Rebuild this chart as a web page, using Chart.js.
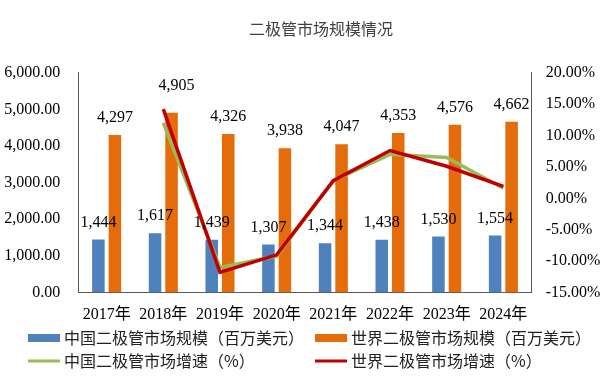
<!DOCTYPE html>
<html>
<head>
<meta charset="utf-8">
<script src="https://cdn.jsdelivr.net/npm/chart.js@4/dist/chart.umd.min.js"></script>
<style>
  html, body { margin: 0; padding: 0; background: #fff; }
  #wrap { position: relative; width: 610px; height: 381px; }
</style>
</head>
<body>
<div id="wrap"><canvas id="c" width="610" height="381"></canvas></div>
<script>
const title = '二极管市场规模情况';
const categories = ['2017年', '2018年', '2019年', '2020年', '2021年', '2022年', '2023年', '2024年'];
const chinaSize = [1444, 1617, 1439, 1307, 1344, 1438, 1530, 1554];
const worldSize = [4297, 4905, 4326, 3938, 4047, 4353, 4576, 4662];
const chinaGrowth = [null, 12.0, -11.0, -9.2, 2.8, 7.0, 6.5, 1.6];
const worldGrowth = [null, 14.2, -11.8, -9.0, 2.8, 7.6, 5.1, 1.9];
const labels = {
  chinaSize: '中国二极管市场规模（百万美元）',
  worldSize: '世界二极管市场规模（百万美元）',
  chinaGrowth: '中国二极管市场增速（%）',
  worldGrowth: '世界二极管市场增速（%）'
};

const SERIF = '"Liberation Serif", "Times New Roman", "Noto Sans CJK SC", serif';
const CJK = '"Noto Sans CJK SC", sans-serif';
const AXIS = '#595959';

const barLabelPlugin = {
  id: 'barLabels',
  afterDatasetsDraw(chart) {
    const ctx = chart.ctx;
    ctx.save();
    ctx.font = '16px ' + SERIF;
    ctx.fillStyle = '#000';
    ctx.textAlign = 'center';
    ctx.textBaseline = 'middle';
    chart.data.datasets.forEach((ds, di) => {
      if (ds.type !== 'bar') return;
      const meta = chart.getDatasetMeta(di);
      meta.data.forEach((el, i) => {
        let dx = 0, dy = 0;
        if (ds.key === 'world' && i === 1) { dx = 5; dy = -10; }
        ctx.fillText(ds.data[i].toLocaleString('en-US'), el.x + dx, el.y - 17 + dy);
      });
    });
    ctx.restore();
  }
};

const titleLegendPlugin = {
  id: 'titleLegend',
  afterDraw(chart) {
    const ctx = chart.ctx;
    ctx.save();
    ctx.font = '16px ' + CJK;
    ctx.fillStyle = '#404040';
    ctx.textAlign = 'center';
    ctx.textBaseline = 'middle';
    ctx.fillText(title, 321, 29);

    const ds = chart.data.datasets;
    const order = [2, 3, 1, 0];
    const cols = [28, 315];
    const rows = [338, 361];
    ctx.font = '16px ' + CJK;
    ctx.textAlign = 'left';
    ctx.fillStyle = '#222';
    order.forEach((di, k) => {
      const d = ds[di];
      const x = cols[k % 2];
      const y = rows[Math.floor(k / 2)];
      if (d.type === 'bar') {
        ctx.fillStyle = d.backgroundColor;
        ctx.fillRect(x, y - 4, 32, 8);
      } else {
        ctx.strokeStyle = d.borderColor;
        ctx.lineWidth = 3;
        ctx.beginPath();
        ctx.moveTo(x, y);
        ctx.lineTo(x + 32, y);
        ctx.stroke();
      }
      ctx.fillStyle = '#222';
      ctx.fillText(d.label, x + 36, y);
    });
    ctx.restore();
  }
};

new Chart(document.getElementById('c'), {
  data: {
    labels: categories,
    datasets: [
      { type: 'line', label: labels.worldGrowth, data: worldGrowth, yAxisID: 'y1',
        borderColor: '#C00000', backgroundColor: '#C00000', borderWidth: 3.5,
        pointRadius: 0, tension: 0, order: 0 },
      { type: 'line', label: labels.chinaGrowth, data: chinaGrowth, yAxisID: 'y1',
        borderColor: '#9BBB59', backgroundColor: '#9BBB59', borderWidth: 3.5,
        pointRadius: 0, tension: 0, order: 1 },
      { type: 'bar', key: 'china', label: labels.chinaSize, data: chinaSize, yAxisID: 'y',
        backgroundColor: '#4F81BD', categoryPercentage: 0.582, barPercentage: 0.76, order: 2 },
      { type: 'bar', key: 'world', label: labels.worldSize, data: worldSize, yAxisID: 'y',
        backgroundColor: '#E46C0A', categoryPercentage: 0.582, barPercentage: 0.76, order: 3 }
    ]
  },
  options: {
    responsive: false,
    animation: false,
    layout: { padding: { top: 72.7, bottom: 58.5, left: 0, right: 0 } },
    plugins: { legend: { display: false }, title: { display: false }, tooltip: { enabled: false } },
    scales: {
      x: {
        grid: { display: false, drawTicks: false },
        border: { display: true, color: AXIS, width: 1 },
        ticks: { font: { size: 16, family: SERIF }, color: '#000', padding: 13, maxRotation: 0, autoSkip: false },
        afterFit(s) { s.height = 30; }
      },
      y: {
        position: 'left', min: 0, max: 6000,
        grid: { display: false, drawTicks: false },
        border: { display: true, color: AXIS, width: 1 },
        ticks: { stepSize: 1000, font: { size: 16, family: SERIF }, color: '#000', padding: 18,
          callback: v => v.toLocaleString('en-US', { minimumFractionDigits: 2, maximumFractionDigits: 2 }) },
        afterFit(s) { s.width = 78.3; }
      },
      y1: {
        position: 'right', min: -15, max: 20,
        grid: { display: false, drawTicks: false },
        border: { display: true, color: AXIS, width: 1 },
        ticks: { stepSize: 5, font: { size: 16, family: SERIF }, color: '#000', padding: 14,
          callback: v => v.toFixed(2) + '%' },
        afterFit(s) { s.width = 78.3; }
      }
    }
  },
  plugins: [barLabelPlugin, titleLegendPlugin]
});
</script>
</body>
</html>
